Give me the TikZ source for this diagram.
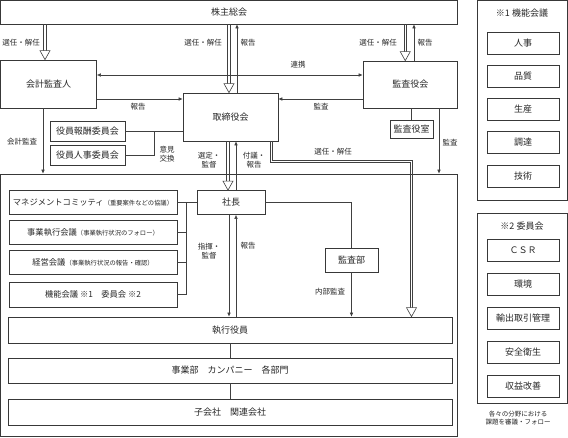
\documentclass[tikz,border=0pt]{standalone}
\usepackage{fontspec}
\setmainfont{Noto Sans CJK JP}
\usetikzlibrary{arrows.meta,calc}
\newcommand{\hollowdown}[2]{%
  \draw[conn] ($(#1)+(-1.3,0)$) -- ($(#2)+(-1.3,-9)$);
  \draw[conn] ($(#1)+(1.3,0)$) -- ($(#2)+(1.3,-9)$);
  \draw[conn, fill=white] ($(#2)+(-5,-9)$) -- ($(#2)+(5,-9)$) -- (#2) -- cycle;}
\newcommand{\paren}{\fontsize{6.3}{7}\selectfont}
\begin{document}
\begin{tikzpicture}[x=1pt,y=-1pt,
  box/.style={draw=black!78, line width=0.7pt, inner sep=0pt, font=\fontsize{9}{10}\selectfont, text=black!85, align=center},
  lbl/.style={font=\fontsize{7.5}{9}\selectfont, text=black!85, align=center, inner sep=0pt},
  small/.style={font=\fontsize{6.5}{8}\selectfont},
  mbox/.style={box, font=\fontsize{8.3}{10}\selectfont, minimum width=168pt},
  conn/.style={draw=black!75, line width=0.6pt},
  arr/.style={conn, -{Latex[length=4pt,width=3.6pt]}},
  ]
\useasboundingbox (0,0) rectangle (568,437);
% ---------- main boxes
\node[box, minimum width=457pt, minimum height=23.5pt] (share) at (229,12.25) {株主総会};
\node[box, minimum width=96pt, minimum height=48pt] (auditor) at (48.5,84) {会計監査人};
\node[box, minimum width=95pt, minimum height=48pt] (board) at (230.5,117) {取締役会};
\node[box, minimum width=94.5pt, minimum height=47pt] (kyaku) at (410.25,84.5) {監査役会};
\node[box, minimum width=43pt, minimum height=18pt] (kshitsu) at (411.5,129) {監査役室};
\node[box, minimum width=75pt, minimum height=20pt] (remun) at (87.5,131) {役員報酬委員会};
\node[box, minimum width=75pt, minimum height=20pt] (pers) at (87.5,155) {役員人事委員会};
\node[box, minimum width=457pt, minimum height=262.5pt] (frame) at (229,305.25) {};
\node[mbox, minimum height=23.5pt] (mc) at (93,202.5) {マネジメントコミッティ{\paren（重要案件などの協議）}};
\node[mbox, minimum height=24pt] (jg) at (93,232) {事業執行会議{\paren（事業執行状況のフォロー）}};
\node[mbox, minimum height=24pt] (kk) at (93,262) {経営会議{\paren（事業執行状況の報告・確認）}};
\node[mbox, minimum height=25pt] (kn) at (93,294.5) {機能会議 ※1\quad 委員会 ※2};
\node[box, minimum width=68pt, minimum height=24pt] (pres) at (231,202.5) {社長};
\node[box, minimum width=53pt, minimum height=24pt] (adept) at (351.5,260) {監査部};
\node[box, minimum width=444pt, minimum height=26pt] (officer) at (230,330) {執行役員};
\node[box, minimum width=444pt, minimum height=25pt] (div) at (230,370.5) {事業部\quad カンパニー\quad 各部門};
\node[box, minimum width=444pt, minimum height=26pt] (sub) at (230,412) {子会社\quad 関連会社};
% ---------- right panel
\node[box, minimum width=90pt, minimum height=199.5pt] (f1) at (522,100.25) {};
\node[box, draw=none] (f1t) at (522,13) {※1 機能会議};
\node[box, minimum width=72pt, minimum height=22pt] (f1a) at (523,43) {人事};
\node[box, minimum width=72pt, minimum height=22pt] (f1b) at (523,76) {品質};
\node[box, minimum width=72pt, minimum height=22pt] (f1c) at (523,109) {生産};
\node[box, minimum width=72pt, minimum height=22pt] (f1d) at (523,142) {調達};
\node[box, minimum width=72pt, minimum height=22pt] (f1e) at (523,176) {技術};
\node[box, minimum width=90pt, minimum height=190pt] (f2) at (522,308) {};
\node[box, draw=none] (f2t) at (522,226) {※2 委員会};
\node[box, minimum width=72pt, minimum height=22pt] (f2a) at (523,250) {ＣＳＲ};
\node[box, minimum width=72pt, minimum height=22pt] (f2b) at (523,284) {環境};
\node[box, minimum width=72pt, minimum height=22pt] (f2c) at (523,318) {輸出取引管理};
\node[box, minimum width=72pt, minimum height=22pt] (f2d) at (523,352) {安全衛生};
\node[box, minimum width=72pt, minimum height=22pt] (f2e) at (523,386) {収益改善};
\node[lbl, small] (cap) at (518,418.5) {各々の分野における\\課題を審議・フォロー};
% ---------- hollow arrows
\coordinate (h1t) at ([xshift=-3.5pt]auditor.north);
\coordinate (h1s) at (h1t |- share.south);
\hollowdown{h1s}{h1t}
\coordinate (h2s) at ([xshift=-1.5pt]share.south -| board.north);
\coordinate (h2t) at ([xshift=-1.5pt]board.north);
\hollowdown{h2s}{h2t}
\coordinate (h3t) at ([xshift=-5pt]kyaku.north);
\coordinate (h3s) at (h3t |- share.south);
\hollowdown{h3s}{h3t}
\coordinate (h4t) at ([xshift=-3pt]pres.north);
\coordinate (h4s) at (h4t |- board.south);
\hollowdown{h4s}{h4t}
% 選任・解任 (board -> officers), double line drawn as two parallels
\coordinate (d0) at ([xshift=41pt]board.south);
\coordinate (c1) at (411.5,161.5);
\coordinate (h5t) at (c1 |- officer.north);
\draw[conn] ($(d0)+(-1.2,0)$) |- ($(c1)+(-1.2,1.2)$) -- ($(h5t)+(-1.2,-9)$);
\draw[conn] ($(d0)+(1.2,0)$) |- ($(c1)+(1.2,-1.2)$) -- ($(h5t)+(1.2,-9)$);
\draw[conn, fill=white] ($(h5t)+(-5,-9)$) -- ($(h5t)+(5,-9)$) -- (h5t) -- cycle;
% ---------- single arrows
\coordinate (r1) at ([xshift=6.5pt]board.north);
\draw[arr] (r1) -- (r1 |- share.south);
\coordinate (r2) at ([xshift=3.75pt]kyaku.north);
\draw[arr] (r2) -- (r2 |- share.south);
\coordinate (r3) at ([yshift=9pt]auditor.east);
\draw[conn, {Latex[length=4pt,width=3.6pt]}-{Latex[length=4pt,width=3.6pt]}] (r3) -- (r3 -| kyaku.west);
\coordinate (r4) at ([yshift=-15pt]auditor.east);
\draw[arr] (r4) -- (r4 -| board.west);
\coordinate (r5) at ([yshift=-14.5pt]kyaku.west);
\draw[arr] (r5) -- (r5 -| board.east);
\coordinate (r6) at ([xshift=-5.5pt]auditor.south);
\draw[arr] (r6) -- (r6 |- frame.north);
\coordinate (r7) at ([xshift=28.75pt]kyaku.south);
\draw[arr] (r7) -- (r7 |- frame.north);
\draw[conn] (kshitsu.north) -- (kshitsu.north |- kyaku.south);
\draw[conn] (remun.east) -- (remun.east -| board.west);
\draw[conn] (pers.east) -| ($(remun.east)!0.5!(remun.east -| board.west)$);
\coordinate (r8) at ([xshift=5pt]pres.north);
\draw[arr] (r8) -- (r8 |- board.south);
% president connections
\coordinate (bus) at (186,0);
\draw[conn] (pres.west) -- (mc.east);
\draw[conn] (bus |- mc.east) -- (bus |- kn.east);
\draw[conn] (jg.east) -- (bus |- jg.east);
\draw[conn] (kk.east) -- (bus |- kk.east);
\draw[conn] (kn.east) -- (bus |- kn.east);
\coordinate (r9) at ([xshift=-2pt]pres.south);
\draw[arr] (r9) -- (r9 |- officer.north);
\coordinate (r10) at ([xshift=5pt]pres.south);
\draw[arr] (r10 |- officer.north) -- (r10);
\draw[conn] (pres.east) -| (adept.north);
\draw[arr] (adept.south) -- (adept.south |- officer.north);
\draw[conn] (officer.south) -- (div.north);
\draw[conn] (div.south) -- (sub.north);
% ---------- labels
\node[lbl] (l1) at (21,43) {選任・解任};
\node[lbl] (l2) at (203,43) {選任・解任};
\node[lbl] (l3) at (248,43) {報告};
\node[lbl] (l4) at (378,43) {選任・解任};
\node[lbl] (l5) at (425,43) {報告};
\node[lbl] (l6) at (298,65) {連携};
\node[lbl] (l7) at (138,107) {報告};
\node[lbl] (l8) at (321,107) {監査};
\node[lbl] (l9) at (22,142) {会計監査};
\node[lbl] (l10) at (450,143) {監査};
\node[lbl] (l11) at (167,154) {意見\\交換};
\node[lbl] (l12) at (209,160) {選定・\\監督};
\node[lbl] (l13) at (254,160) {付議・\\報告};
\node[lbl] (l14) at (333,152) {選任・解任};
\node[lbl] (l15) at (209,251) {指揮・\\監督};
\node[lbl] (l16) at (248,246) {報告};
\node[lbl] (l17) at (330,292) {内部監査};
\end{tikzpicture}
\end{document}
